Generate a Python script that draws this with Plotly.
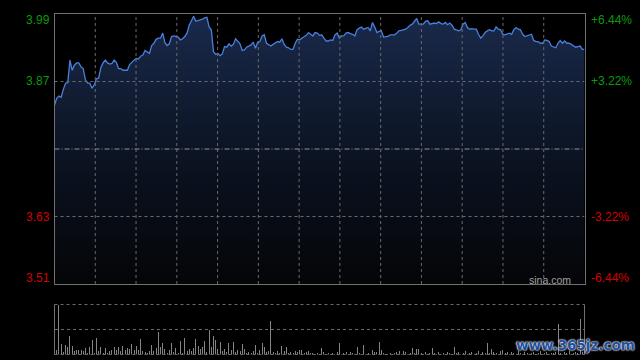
import plotly.graph_objects as go

# ---- data ----
prices = [
    3.828, 3.840, 3.844, 3.842, 3.856, 3.867, 3.868, 3.908, 3.890, 3.899,
    3.903, 3.903, 3.896, 3.893, 3.873, 3.867, 3.867, 3.858, 3.864, 3.875,
    3.876, 3.895, 3.903, 3.908, 3.903, 3.901, 3.902, 3.908, 3.904, 3.893,
    3.893, 3.890, 3.890, 3.890, 3.900, 3.905, 3.908, 3.911, 3.910, 3.915,
    3.917, 3.925, 3.922, 3.920, 3.934, 3.938, 3.945, 3.947, 3.947, 3.956,
    3.939, 3.934, 3.937, 3.950, 3.951, 3.950, 3.949, 3.944, 3.946, 3.950,
    3.956,
    3.970, 3.979, 3.986, 3.977, 3.978, 3.979, 3.981, 3.983, 3.984, 3.967,
    3.962, 3.923, 3.918, 3.920, 3.916, 3.919, 3.932, 3.931, 3.937, 3.933,
    3.936, 3.946, 3.941, 3.937, 3.925, 3.926, 3.931, 3.933, 3.935, 3.940,
    3.929, 3.940, 3.941, 3.951, 3.953, 3.938, 3.936, 3.933, 3.936, 3.938,
    3.941, 3.940, 3.946, 3.936, 3.931, 3.930, 3.927, 3.927, 3.938, 3.945,
    3.944, 3.947, 3.949, 3.952, 3.957, 3.954, 3.951, 3.957, 3.956, 3.952,
    3.953, 3.947, 3.942, 3.942, 3.944, 3.943, 3.953, 3.956, 3.947, 3.951,
    3.951, 3.956, 3.957, 3.955, 3.954, 3.951, 3.962, 3.965, 3.967, 3.963,
    3.965, 3.966, 3.960, 3.975, 3.967, 3.957, 3.959, 3.960, 3.949, 3.950,
    3.950, 3.953, 3.953, 3.953, 3.956, 3.960, 3.961, 3.962, 3.963, 3.966,
    3.970, 3.972, 3.978, 3.982, 3.972, 3.972, 3.972, 3.977, 3.978, 3.972,
    3.973, 3.974, 3.973, 3.976, 3.973, 3.972, 3.975, 3.971, 3.974, 3.970,
    3.963, 3.962, 3.960, 3.962, 3.972, 3.975, 3.966, 3.963, 3.964, 3.963,
    3.963, 3.954, 3.947, 3.951, 3.957, 3.960, 3.962, 3.960, 3.960, 3.967,
    3.963, 3.962, 3.954, 3.953, 3.954, 3.956, 3.954, 3.962, 3.966, 3.963,
    3.962, 3.954, 3.950, 3.951, 3.953, 3.954, 3.943, 3.941, 3.941, 3.938,
    3.938, 3.944, 3.943, 3.941, 3.933, 3.932, 3.930, 3.938, 3.943, 3.938,
    3.942, 3.938, 3.938, 3.936, 3.933, 3.931, 3.932, 3.933, 3.927, 3.927,
]

volumes = [
    4, 5, 50, 11, 3, 10, 8, 19, 9, 4,
    5, 5, 5, 4, 7, 2, 8, 15, 2, 17,
    4, 8, 2, 7, 2, 4, 5, 8, 5, 8,
    4, 9, 5, 7, 6, 11, 5, 9, 5, 16,
    4, 3, 2, 4, 10, 4, 7, 23, 8, 12,
    6, 2, 5, 12, 3, 7, 2, 14, 2, 17,
    4, 6, 4, 7, 16, 9, 6, 8, 14, 3,
    25, 8, 19, 15, 6,
    13, 4, 6, 3, 12, 5, 13, 3, 5, 4, 11, 6, 2, 3, 2, 4, 10, 2, 5, 12, 8, 3, 4,
    34,
    3, 2, 4, 2, 9, 4, 8, 2, 3, 2, 4, 3, 5, 5, 2, 3, 4, 2, 2, 1, 2, 1,
    7, 3, 1, 2, 1, 2, 1, 3, 12, 1, 2, 3, 1, 3, 2, 1, 8, 2, 1, 10,
    1, 2, 1, 5, 3, 3, 13, 5, 2, 1, 1, 2, 1, 2, 3, 4, 1, 4, 3, 1,
    2, 7, 2, 6, 6,
    2, 1, 3, 1, 2, 7, 2, 1, 3, 1,
    2, 1, 3, 2, 1, 8, 2, 3, 1, 2,
    4, 1, 2, 3, 1, 2, 4, 1, 3, 2,
    12, 2, 6, 3, 2, 1, 4, 5, 2, 3,
    1, 3, 2, 1, 4, 2, 1, 3, 2, 1,
    2, 3, 1, 2, 4, 1, 2, 3, 1, 2,
    2, 3, 31, 2, 1, 3, 2, 4, 1, 2,
    3, 2, 36, 3, 5,
]
volumes = [v * 1000 for v in volumes]

minutes = list(range(len(prices)))
prev_close = 3.75
price_ticks = [3.99, 3.87, 3.63, 3.51]
price_labels = ["3.99", "3.87", "3.63", "3.51"]
pct_labels = ["+6.44%", "+3.22%", "-3.22%", "-6.44%"]
label_colors = ["#0a9a0a", "#0a9a0a", "#d40000", "#d40000"]
label_shift = [-6, 0, 0, 6]
grid_prices = [3.87, 3.63]

FONT = "Liberation Sans, Arial, sans-serif"
GRID = "#6a6a6a"
BORDER = "#707070"

fig = go.Figure()

fig.add_trace(go.Scatter(
    x=minutes, y=prices, mode="lines",
    line=dict(color="#4a7fdc", width=1.3),
    fill="tozeroy",
    fillgradient=dict(type="vertical", start=3.51, stop=3.99,
                      colorscale=[[0, "#040507"], [0.5, "#0c1424"], [1, "#1a2a4c"]]),
    hoverinfo="skip", xaxis="x", yaxis="y",
))

fig.add_trace(go.Bar(
    x=minutes, y=volumes, width=0.45,
    marker=dict(color="#858585", line=dict(width=0)),
    hoverinfo="skip", xaxis="x2", yaxis="y2",
))

n = len(prices) - 1
vgrid = [n * k / 13 for k in range(1, 13)]

fig.update_layout(
    width=640, height=360,
    margin=dict(l=0, r=0, t=0, b=0),
    paper_bgcolor="#000000", plot_bgcolor="rgba(0,0,0,0)",
    showlegend=False, bargap=0,
    xaxis=dict(domain=[54.5 / 640, 584.5 / 640], range=[0, n],
               showticklabels=False, ticks="", showgrid=False,
               zeroline=False, showline=True, mirror=True,
               linecolor=BORDER, linewidth=1),
    yaxis=dict(domain=[1 - 284 / 360, 1 - 14 / 360], range=[3.51, 3.99],
               showticklabels=False, ticks="", showgrid=False,
               zeroline=False, showline=True, mirror=True,
               linecolor=BORDER, linewidth=1),
    xaxis2=dict(domain=[54.5 / 640, 584.5 / 640], range=[0, n], anchor="y2",
                showticklabels=False, ticks="", showgrid=False,
                zeroline=False, showline=False),
    yaxis2=dict(domain=[1 - 354.5 / 360, 1 - 304.5 / 360],
                range=[0, max(volumes)], anchor="x2",
                tickvals=[max(volumes) / 2], showticklabels=False, ticks="",
                showgrid=True, gridcolor=GRID, gridwidth=1, griddash="dot",
                zeroline=False, showline=False),
)

shapes = []
for gx in vgrid:
    shapes.append(dict(type="line", xref="x", yref="y", x0=gx, x1=gx, y0=3.51, y1=3.99,
                       layer="above", line=dict(color=GRID, width=1, dash="dot")))
for gy in grid_prices:
    shapes.append(dict(type="line", xref="x", yref="y", x0=0, x1=n, y0=gy, y1=gy,
                       layer="above", line=dict(color=GRID, width=1, dash="dot")))
shapes += [
    dict(type="line", xref="x", yref="y", x0=0, x1=n, y0=prev_close, y1=prev_close,
         layer="above", line=dict(color="#8797aa", width=1, dash="5px,2px,1px,2px")),
    dict(type="line", xref="paper", yref="paper",
         x0=54.5 / 640, x1=54.5 / 640, y0=1 - 354.5 / 360, y1=1 - 304.5 / 360,
         line=dict(color=BORDER, width=1)),
    dict(type="line", xref="paper", yref="paper",
         x0=584.5 / 640, x1=584.5 / 640, y0=1 - 354.5 / 360, y1=1 - 304.5 / 360,
         line=dict(color=BORDER, width=1)),
    dict(type="line", xref="paper", yref="paper",
         x0=54.5 / 640, x1=584.5 / 640, y0=1 - 304.5 / 360, y1=1 - 304.5 / 360,
         line=dict(color=GRID, width=1, dash="dot")),
    dict(type="line", xref="paper", yref="paper",
         x0=54.5 / 640, x1=584.5 / 640, y0=1 - 354.5 / 360, y1=1 - 354.5 / 360,
         line=dict(color=GRID, width=1, dash="dot")),
]
fig.update_layout(shapes=shapes)

ann = []
for v, lab, pct, col, sh in zip(price_ticks, price_labels, pct_labels, label_colors, label_shift):
    ann.append(dict(xref="paper", yref="y", x=52 / 640, y=v, yshift=sh,
                    text=lab, showarrow=False, xanchor="right", yanchor="middle",
                    font=dict(family=FONT, size=12, color=col)))
    ann.append(dict(xref="paper", yref="y", x=589 / 640, y=v, yshift=sh,
                    text=pct, showarrow=False, xanchor="left", yanchor="middle",
                    font=dict(family=FONT, size=12, color=col)))
ann.append(dict(xref="paper", yref="paper", x=573 / 640, y=1 - 279.5 / 360,
                text="sina.com", showarrow=False, xanchor="right", yanchor="middle",
                font=dict(family=FONT, size=10.5, color="#a0a0a0")))
ann.append(dict(xref="paper", yref="paper", x=575 / 640, y=1 - 345 / 360,
                text="<b>www.365jz.com</b>", showarrow=False, xanchor="center", yanchor="middle",
                font=dict(family="DejaVu Sans, sans-serif", size=13.5, color="#1f4f9a",
                          shadow="0px 0px 2px #e8eef8, 0px 0px 2px #e8eef8, 0px 0px 1px #ffffff")))
fig.update_layout(annotations=ann)

fig.write_html(
    "out.html",
    config={"displayModeBar": False, "staticPlot": True},
    post_script="document.body.style.margin='0';document.body.style.background='#000';",
)
